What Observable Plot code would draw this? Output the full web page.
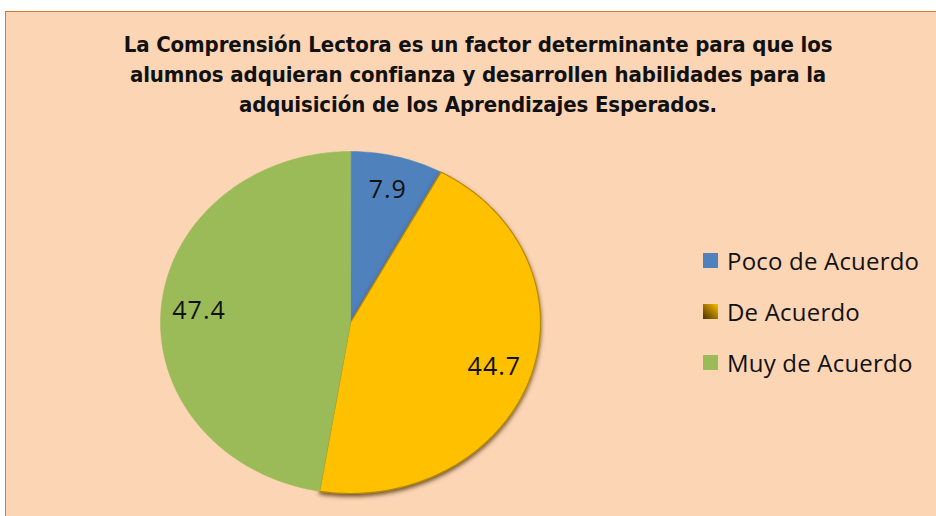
<!DOCTYPE html>
<html>
<head>
<meta charset="utf-8">
<script src="https://cdn.jsdelivr.net/npm/d3@7"></script>
<script src="https://cdn.jsdelivr.net/npm/@observablehq/plot@0.6"></script>
<style>
  html, body { margin: 0; padding: 0; background: #ffffff; }
  #page { position: relative; width: 936px; height: 516px; overflow: hidden; background: #ffffff; }
  #panel { position: absolute; left: 5px; top: 11px; width: 960px; height: 540px; background: #FCD5B5; border: 1.5px solid #D9782F; box-sizing: border-box; }
  #title { position: absolute; left: 10px; top: 30px; width: 936px; text-align: center; font-family: "Liberation Sans Narrow", "DejaVu Sans Condensed", sans-serif; font-weight: bold; font-size: 22px; line-height: 30px; color: #111; letter-spacing: -0.1px; }
  #title div { white-space: nowrap; }
  #chart { position: absolute; left: 0; top: 0; }
  #legend { position: absolute; left: 703px; top: 235px; font-family: "Open Sans", sans-serif; font-size: 24px; letter-spacing: 0.2px; color: #111; }
  .row { display: flex; align-items: center; height: 51px; }
  .sw { width: 15px; height: 15px; margin-right: 9px; }
</style>
</head>
<body>
<div id="page">
  <div id="panel"></div>
  <div id="title"></div>
  <div id="chart"></div>
  <div id="legend"></div>
</div>
<script>
const titleLines = [
  "La Comprensión Lectora es un factor determinante para que los",
  "alumnos adquieran confianza y desarrollen habilidades para la",
  "adquisición de los Aprendizajes Esperados."
];
const categories = ["Poco de Acuerdo", "De Acuerdo", "Muy de Acuerdo"];
const values = [7.9, 44.7, 47.4];
const colors = ["#4F81BD", "#FFC000", "#9BBB59"];

// title
const titleEl = document.getElementById("title");
titleLines.forEach(t => { const d = document.createElement("div"); d.textContent = t; titleEl.appendChild(d); });

// slices as polygons in unit space, clockwise from 12 o'clock
const total = d3.sum(values);
let acc = 0;
const slices = values.map((v, i) => {
  const a0 = acc / total * 2 * Math.PI;
  acc += v;
  const a1 = acc / total * 2 * Math.PI;
  const n = Math.max(2, Math.ceil((a1 - a0) / (Math.PI / 180)));
  const pts = [{x: 0, y: 0}];
  for (let k = 0; k <= n; k++) {
    const a = a0 + (a1 - a0) * k / n;
    pts.push({x: Math.sin(a), y: Math.cos(a)});
  }
  const am = (a0 + a1) / 2;
  return {category: categories[i], value: v, color: colors[i], pts, lx: 0.8 * Math.sin(am), ly: 0.8 * Math.cos(am)};
});

const plot = Plot.plot({
  width: 936,
  height: 516,
  marginLeft: 160,
  marginRight: 396,
  marginTop: 151,
  marginBottom: 23,
  x: {domain: [-1, 1], axis: null},
  y: {domain: [-1, 1], axis: null},
  style: {background: "transparent", overflow: "visible"},
  marks: [
    ...slices.map((s, i) => Plot.line(s.pts, {x: "x", y: "y", curve: "linear-closed", fill: s.color, stroke: i === 1 ? "#B88A00" : s.color, strokeWidth: i === 1 ? 1.2 : 0.5, className: "slice" + i})),
    Plot.text(slices, {x: "lx", y: "ly", text: d => d.value.toFixed(1), fontSize: 25, fill: "#111", fontFamily: "Open Sans, sans-serif", className: "lbl"})
  ]
});
document.getElementById("chart").appendChild(plot);

// shadow on yellow slice
const svg = d3.select(plot);
svg.selectAll(".lbl text").attr("letter-spacing", "1px");
const defs = svg.insert("defs", ":first-child");
const f = defs.append("filter").attr("id", "sh").attr("x", "-20%").attr("y", "-20%").attr("width", "140%").attr("height", "140%");
f.append("feDropShadow").attr("dx", 0).attr("dy", 2.5).attr("stdDeviation", 2).attr("flood-color", "#4a3300").attr("flood-opacity", 0.8);
svg.selectAll(".slice1").attr("filter", "url(#sh)");

// legend
const lg = document.getElementById("legend");
categories.forEach((c, i) => {
  const r = document.createElement("div"); r.className = "row";
  const s = document.createElement("div"); s.className = "sw";
  s.style.background = i === 1 ? "linear-gradient(225deg, #FFC000 0%, #9A6E00 55%, #4a3300 100%)" : colors[i];
  const t = document.createElement("span"); t.textContent = c;
  r.appendChild(s); r.appendChild(t); lg.appendChild(r);
});
</script>
</body>
</html>
